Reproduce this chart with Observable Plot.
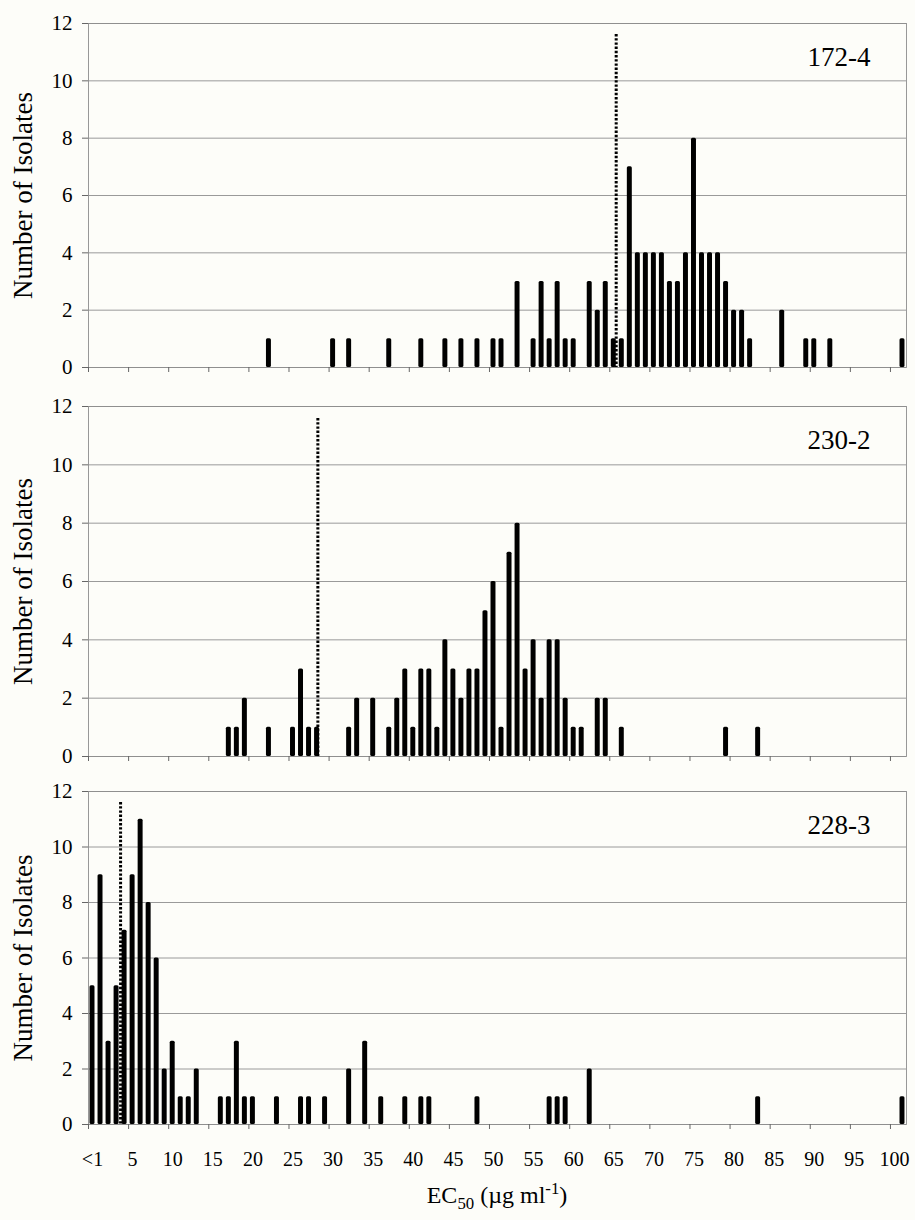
<!DOCTYPE html>
<html>
<head>
<meta charset="utf-8">
<script src="https://cdn.jsdelivr.net/npm/d3@7"></script>
<script src="https://cdn.jsdelivr.net/npm/@observablehq/plot@0.6"></script>
<style>
  html, body { margin: 0; padding: 0; background: #fdfdf9; }
  #chart { width: 915px; font-family: "Liberation Serif", "Times New Roman", serif; color: #000; }
  #chart svg { display: block; }
  #xtitle {
    box-sizing: border-box;
    width: 915px;
    padding: 0 9px 0 88px;
    margin-top: 10px;
    text-align: center;
    font-size: 24px;
    line-height: 30px;
  }
  #xtitle sub, #xtitle sup { font-size: 70%; line-height: 0; }
</style>
</head>
<body>
<div id="chart"></div>
<script>
// EC50 classes: 0 stands for "<1", 101 for values above 100
const xTickValues = [0, 5, 10, 15, 20, 25, 30, 35, 40, 45, 50, 55, 60, 65, 70, 75, 80, 85, 90, 95, 100];
const yTickValues = [0, 2, 4, 6, 8, 10, 12];

// Isolate 172-4
const ec172 = [22, 30, 32, 37, 41, 44, 46, 48, 50, 51, 53, 55, 56, 57, 58, 59, 60, 62, 63, 64, 65, 66,
  67, 68, 69, 70, 71, 72, 73, 74, 75, 76, 77, 78, 79, 80, 81, 82, 86, 89, 90, 92, 101];
const n172 = [1, 1, 1, 1, 1, 1, 1, 1, 1, 1, 3, 1, 3, 1, 3, 1, 1, 3, 2, 3, 1, 1,
  7, 4, 4, 4, 4, 3, 3, 4, 8, 4, 4, 4, 3, 2, 2, 1, 2, 1, 1, 1, 1];
const ref172 = 65.3;

// Isolate 230-2
const ec230 = [17, 18, 19, 22, 25, 26, 27, 28, 32, 33, 35, 37, 38, 39, 40, 41, 42, 43,
  44, 45, 46, 47, 48, 49, 50, 51, 52, 53, 54, 55, 56, 57, 58, 59, 60, 61, 63, 64, 66, 79, 83];
const n230 = [1, 1, 2, 1, 1, 3, 1, 1, 1, 2, 2, 1, 2, 3, 1, 3, 3, 1,
  4, 3, 2, 3, 3, 5, 6, 1, 7, 8, 3, 4, 2, 4, 4, 2, 1, 1, 2, 2, 1, 1, 1];
const ref230 = 28.1;

// Isolate 228-3
const ec228 = [0, 1, 2, 3, 4, 5, 6, 7, 8, 9, 10, 11, 12, 13, 16, 17, 18, 19, 20, 23, 26, 27, 29,
  32, 34, 36, 39, 41, 42, 48, 57, 58, 59, 62, 83, 101];
const n228 = [5, 9, 3, 5, 7, 9, 11, 8, 6, 2, 3, 1, 1, 2, 1, 1, 3, 1, 1, 1, 1, 1, 1,
  2, 3, 1, 1, 1, 1, 1, 1, 1, 1, 2, 1, 1];
const ref228 = 3.5;

const gridColor = "#8e8e8e";
const tickFmt = v => (v === 0 ? "<1" : String(v));

function panel({name, ec, counts, ref, marginTop, frameHeight, marginBottom, labels, dotInset}) {
  const data = ec.map((v, i) => ({ec: v, n: counts[i]}));
  return Plot.plot({
    width: 915,
    height: marginTop + frameHeight + marginBottom,
    marginLeft: 88,
    marginRight: 9,
    marginTop,
    marginBottom,
    style: {background: "transparent", fontFamily: "'Liberation Serif', 'Times New Roman', serif", color: "#000", overflow: "visible"},
    x: {domain: [-0.5, 101.5]},
    y: {domain: [0, 12]},
    marks: [
      Plot.ruleY(yTickValues, {stroke: gridColor, strokeWidth: 0.9}),
      Plot.frame({stroke: gridColor, strokeWidth: 0.9}),
      Plot.axisY({ticks: yTickValues, tickSize: 6, tickPadding: 10, fontSize: 21, stroke: "#666", label: null}),
      // tick marks sit on the class boundaries, every fifth class
      Plot.axisX({ticks: xTickValues.map(v => v - 0.5), tickSize: 5, tickFormat: () => "", stroke: "#666", label: null}),
      labels ? Plot.axisX({ticks: xTickValues, tickSize: 0, tickPadding: 27, tickFormat: tickFmt, fontSize: 20, label: null}) : null,
      Plot.rectY(data, {x1: d => d.ec - 0.31, x2: d => d.ec + 0.31, y: "n", fill: "#000", rx: 1.5}),
      Plot.ruleX([ref], {x: d => d, stroke: "#000", strokeWidth: 3, strokeDasharray: "2.4 1.8", insetTop: dotInset}),
      Plot.text([name], {frameAnchor: "top-right", dx: -36, dy: 34, textAnchor: "end", lineAnchor: "middle", fontSize: 27, fill: "#000"}),
      Plot.text(["Number of Isolates"], {frameAnchor: "left", rotate: -90, dx: -65, textAnchor: "middle", lineAnchor: "middle", fontSize: 27, fill: "#000"})
    ]
  });
}

const chart = document.getElementById("chart");
chart.append(
  panel({name: "172-4", ec: ec172, counts: n172, ref: ref172, marginTop: 23, frameHeight: 344, marginBottom: 12, labels: false, dotInset: 11}),
  panel({name: "230-2", ec: ec230, counts: n230, ref: ref230, marginTop: 27, frameHeight: 350, marginBottom: 10, labels: false, dotInset: 12}),
  panel({name: "228-3", ec: ec228, counts: n228, ref: ref228, marginTop: 25, frameHeight: 333, marginBottom: 46, labels: true, dotInset: 11})
);

const title = document.createElement("div");
title.id = "xtitle";
title.innerHTML = "EC<sub>50</sub> (µg ml<sup>-1</sup>)";
chart.append(title);
</script>
</body>
</html>
